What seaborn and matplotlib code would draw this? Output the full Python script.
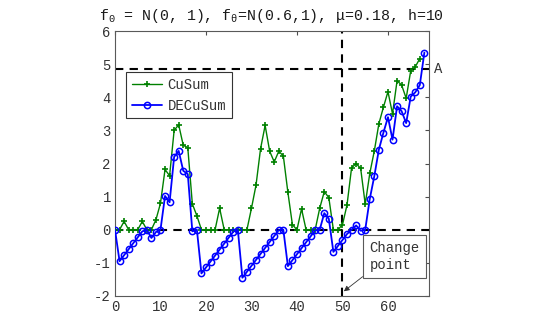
import matplotlib
matplotlib.use("Agg")
import matplotlib.pyplot as plt
import matplotlib.transforms as mtransforms
import pandas as pd
import seaborn as sns

# values
cusum = [0, 0, 0.25, 0, 0, 0, 0.25, 0, 0, 0.3,
         0.8, 1.82, 1.63, 3.0, 3.17, 2.55, 2.48, 0.78, 0.42, 0,
         0, 0, 0, 0.65, 0, 0, 0, 0, 0, 0,
         0.65, 1.35, 2.45, 3.15, 2.37, 2.05, 2.37, 2.23, 1.13, 0.15,
         0, 0.63, 0, 0, 0, 0.65, 1.15, 0.97, 0, 0,
         0.15, 0.75, 1.87, 2.0, 1.85, 0.77, 1.7, 2.38, 3.2, 3.7,
         4.17, 3.5, 4.5, 4.37, 3.97, 4.8, 4.92, 5.17]
decusum = [0, -0.95, -0.77, -0.59, -0.41, -0.23, -0.05, 0, -0.25, -0.07,
           0, 1.02, 0.83, 2.2, 2.38, 1.78, 1.68, -0.05, 0, -1.32,
           -1.14, -0.96, -0.78, -0.6, -0.42, -0.24, -0.06, 0, -1.45, -1.27,
           -1.09, -0.91, -0.73, -0.55, -0.37, -0.19, -0.01, 0, -1.1, -0.92,
           -0.74, -0.56, -0.38, -0.2, -0.02, 0, 0.5, 0.33, -0.67, -0.49,
           -0.31, -0.13, 0, 0.13, -0.03, 0, 0.93, 1.62, 2.42, 2.93,
           3.4, 2.72, 3.73, 3.58, 3.22, 4.02, 4.15, 4.37, 5.35]
threshold_a = 4.85
change_point = 50
x_ticks_major = [0, 20, 40, 60]
x_ticks_minor = [10, 30, 50]
y_ticks = [-2, -1, 0, 1, 2, 3, 4, 5, 6]

df_cu = pd.DataFrame({'n': range(len(cusum)), 'value': cusum})
df_de = pd.DataFrame({'n': range(len(decusum)), 'value': decusum})

sns.set_style('white')
plt.rcParams['font.family'] = ['Liberation Mono', 'DejaVu Sans']
plt.rcParams['mathtext.fontset'] = 'custom'
plt.rcParams['mathtext.rm'] = 'Liberation Mono'
plt.rcParams['mathtext.it'] = 'Liberation Mono'
plt.rcParams['axes.unicode_minus'] = False

fig, ax = plt.subplots(figsize=(5.45, 3.27), dpi=100)
fig.subplots_adjust(left=0.211, right=0.787, top=0.905, bottom=0.095)

green = '#008000'
blue = '#0000ff'

ax.axhline(0, color='black', linestyle=(0, (4, 3)), linewidth=1.5, zorder=1)
ax.axhline(threshold_a, color='black', linestyle=(0, (4, 3)), linewidth=1.5, zorder=1)
ax.axvline(change_point, color='black', linestyle=(0, (4, 3)), linewidth=1.5, zorder=1)

sns.lineplot(data=df_cu, x='n', y='value', ax=ax, color=green, linewidth=1.0,
             marker='+', markersize=4.5, markeredgewidth=1.2,
             markeredgecolor=green, label='CuSum', zorder=3)
sns.lineplot(data=df_de, x='n', y='value', ax=ax, color=blue, linewidth=1.3,
             marker='o', markersize=4.5, markeredgewidth=1.1,
             markeredgecolor=blue, markerfacecolor='none', label='DECuSum', zorder=4)

ax.set_xlim(0, 69)
ax.set_ylim(-2, 6)
ax.set_xlabel('')
ax.set_ylabel('')
ax.set_xticks(x_ticks_major)
ax.set_xticks(x_ticks_minor, minor=True)
ax.set_xticklabels([str(t) for t in x_ticks_major], fontsize=10)
ax.set_xticklabels([str(t) for t in x_ticks_minor], minor=True, fontsize=10)
ax.set_yticks(y_ticks)
ax.set_yticklabels([str(t) for t in y_ticks], fontsize=10)
ax.tick_params(which='both', direction='in', top=True, right=True,
               length=3, width=0.8, color='0.3', pad=3, labelcolor='0.2')
ax.tick_params(which='minor', length=0)
for sp in ax.spines.values():
    sp.set_color('0.35')
    sp.set_linewidth(0.8)

ax.set_title(r'f$_0$ = N(0, 1), f$_\theta$=N(0.6,1), μ=0.18, h=10',
             fontsize=10.7, pad=8, color='0.1')

trans = mtransforms.blended_transform_factory(ax.transAxes, ax.transData)
ax.text(1.015, threshold_a, 'A', transform=trans, ha='left', va='center',
        fontsize=10, color='0.2')

ax.annotate('Change\npoint', xy=(50.3, -1.86), xytext=(55.9, -0.35),
            ha='left', va='top', fontsize=10, color='0.2',
            bbox=dict(boxstyle='square,pad=0.45', fc='white', ec='0.35', lw=0.8),
            arrowprops=dict(arrowstyle='-|>', color='0.2', lw=0.6, mutation_scale=8,
                            relpos=(0, 0), shrinkA=0, shrinkB=0),
            zorder=5)

leg = ax.legend(loc='upper left', bbox_to_anchor=(0.035, 0.845), borderaxespad=0,
                frameon=True, fancybox=False, edgecolor='0.2', framealpha=1,
                fontsize=10, handlelength=2.2, borderpad=0.4, labelspacing=0.5,
                handletextpad=0.4)
leg.get_frame().set_linewidth(0.8)
for t in leg.get_texts():
    t.set_color('0.2')

plt.savefig('out.png', dpi=100)
plt.close()
